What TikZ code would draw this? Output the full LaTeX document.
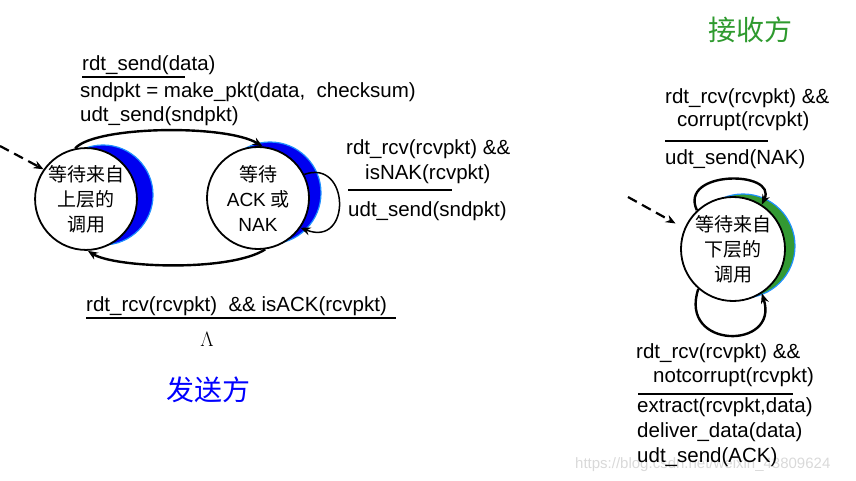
\documentclass[tikz,border=0pt]{standalone}
\usepackage{fontspec}
\usepackage{xcolor}
\usepackage{tikz}
\usetikzlibrary{arrows.meta,positioning,calc}
\newfontfamily\arialfont{Liberation Sans}
\newfontfamily\cjkfont{Noto Sans CJK SC}
\definecolor{fsmblue}{HTML}{0000F0}
\definecolor{fsmcyan}{HTML}{1E90FF}
\definecolor{fsmgreen}{HTML}{339933}
\definecolor{titleblue}{HTML}{0000FF}
\definecolor{titlegreen}{HTML}{2E9A2E}

\begin{document}
\begin{tikzpicture}[x=1pt,y=-1pt,
  state/.style={circle,draw=black,line width=1.8pt,fill=white,inner sep=0pt,align=center,font=\cjkfont\fontsize{19}{25}\selectfont},
  lbl/.style={anchor=base west,inner sep=0pt,font=\arialfont\fontsize{20.5}{24}\selectfont},
  bar/.style={line width=2pt},
  edge/.style={->,line width=2.4pt},
  title/.style={inner sep=0pt,font=\cjkfont\fontsize{28}{30}\selectfont},
  >={Stealth[length=10pt,width=8pt]}]
  \useasboundingbox (0,0) rectangle (856,481);
  \node[lbl,font=\arialfont\fontsize{15}{16}\selectfont,text=black!15] (wm) at (575,468) {https://blog.csdn.net/weixin\_43809624};

  \coordinate (c1) at (86,199);
  \coordinate (c2) at (258,198);
  \coordinate (c3) at (733,249);
  \fill[fsmblue,draw=fsmcyan,line width=1.2pt] ($(c1)+(17,-4)$) circle[radius=50pt];
  \fill[fsmblue,draw=fsmcyan,line width=1.2pt] ($(c2)+(12,-5)$) circle[radius=51pt];
  \fill[fsmgreen,draw=fsmcyan,line width=1.2pt] ($(c3)+(10,-3)$) circle[radius=52pt];
  \node[state,minimum size=100pt] (s1) at (c1) {等待来自\\上层的\\调用};
  \node[state,minimum size=102pt] (s2) at (c2) {等待\\{\arialfont ACK} 或\\{\arialfont NAK}};
  \node[state,minimum size=104pt] (s3) at (c3) {等待来自\\下层的\\调用};

  \coordinate (in1) at (0,146);
  \coordinate (in3) at (628,197);
  \draw[->,line width=2.2pt,dash pattern=on 10pt off 6pt] (in1) -- (s1.145);
  \draw[->,line width=2.2pt,dash pattern=on 10pt off 6pt,shorten >=10pt] (in3) -- (s3.157);
  \draw[edge] (s1.102) .. controls (95,126) and (225,124) .. (s2.85);
  \draw[edge] (s2.-82) .. controls (230,272) and (115,268) .. (s1.-88);
  \draw[->,line width=1.5pt] (s2.27) .. controls (350,158) and (352,248) .. (s2.-35);
  \draw[edge] (s3.133) .. controls (678,170) and (778,170) .. (s3.57);
  \draw[edge] (s3.-131) .. controls (678,350) and (780,350) .. (s3.-57);

  \node[lbl] (snd1) at (82,71) {rdt\_send(data)};
  \draw[bar] (82,77) -- (185,77);
  \node[lbl] (snd2) at (80,98) {sndpkt = make\_pkt(data,~ checksum)};
  \node[lbl] (snd3) at (80,122) {udt\_send(sndpkt)};

  \node[lbl] (nak1) at (346,155) {rdt\_rcv(rcvpkt) \&\&};
  \node[lbl] (nak2) at (365,180) {isNAK(rcvpkt)};
  \draw[bar] (348,190) -- (452,190);
  \node[lbl] (nak3) at (348,216) {udt\_send(sndpkt)};

  \node[lbl] (ack1) at (86,311) {rdt\_rcv(rcvpkt) ~\&\& isACK(rcvpkt)};
  \draw[bar] (86,318) -- (396,318);
  \node[inner sep=0pt,font=\fontsize{22}{24}\selectfont] (lam) at (207,339) {$\Lambda$};
  \node[title,text=titleblue] (sendtitle) at (208,390) {发送方};

  \node[title,text=titlegreen] (rcvtitle) at (750,30) {接收方};
  \node[lbl] (cor1) at (665,104) {rdt\_rcv(rcvpkt) \&\&};
  \node[lbl] (cor2) at (677,127) {corrupt(rcvpkt)};
  \draw[bar] (665,141) -- (768,141);
  \node[lbl] (cor3) at (665,165) {udt\_send(NAK)};

  \node[lbl] (ok1) at (636,358) {rdt\_rcv(rcvpkt) \&\&};
  \node[lbl] (ok2) at (653,382) {notcorrupt(rcvpkt)};
  \draw[bar] (638,394) -- (793,394);
  \node[lbl] (ok3) at (637,412) {extract(rcvpkt,data)};
  \node[lbl] (ok4) at (637,437) {deliver\_data(data)};
  \node[lbl] (ok5) at (637,462) {udt\_send(ACK)};
\end{tikzpicture}
\end{document}
